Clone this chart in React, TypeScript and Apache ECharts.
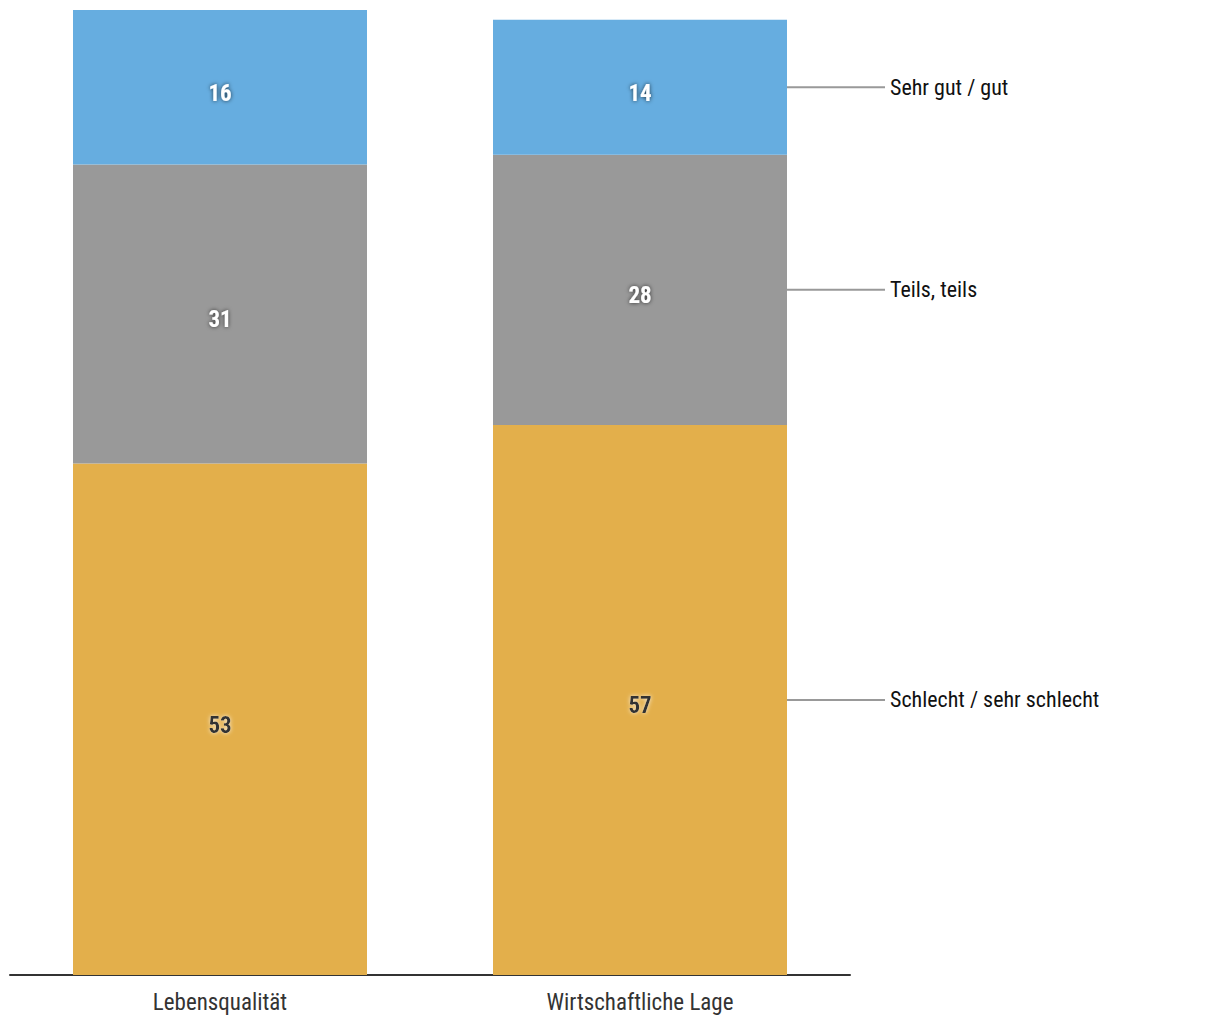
import React, { useEffect, useRef } from "react";
import * as echarts from "echarts";

const categories = ["Lebensqualität", "Wirtschaftliche Lage"];
const seriesNames = ["Schlecht / sehr schlecht", "Teils, teils", "Sehr gut / gut"];
const schlecht = [53, 57];
const teils = [31, 28];
const gut = [16, 14];
const colors = ["#E3AF4B", "#999999", "#66ADE0"];
const FONT = "'Liberation Sans Narrow', 'Roboto Condensed', Lato, sans-serif";

export default function App() {
  const ref = useRef<HTMLDivElement>(null);
  useEffect(() => {
    if (!ref.current) return;
    const chart = echarts.init(ref.current, null, { renderer: "svg" });
    const values = [schlecht, teils, gut];
    const lastIdx = categories.length - 1;
    let acc = 0;
    const sideData = values.map((arr, i) => {
      const c = acc + arr[lastIdx] / 2;
      acc += arr[lastIdx];
      return [lastIdx, c, seriesNames[i]];
    });
    const barSeries = values.map((arr, i) => ({
      name: seriesNames[i],
      type: "bar",
      stack: "total",
      barWidth: "70%",
      data: arr,
      itemStyle: { color: colors[i] },
      label: {
        show: true,
        position: "inside",
        offset: [0, 6],
        fontFamily: FONT,
        fontWeight: "bold",
        fontSize: 23,
        color: i === 0 ? "#333333" : "#ffffff",
        textShadowColor: i === 0 ? "rgba(255,255,255,0.8)" : "rgba(0,0,0,0.7)",
        textShadowBlur: 4,
        textBorderWidth: 0,
      },
    }));
    chart.setOption({
      animation: false,
      grid: { left: 10, top: 10, right: 370, bottom: 45, containLabel: false },
      xAxis: {
        type: "category",
        data: categories,
        axisLine: { show: true, lineStyle: { color: "#333333", width: 2 } },
        axisTick: { show: false },
        axisLabel: { fontFamily: FONT, fontSize: 23, color: "#333333", margin: 16 },
      },
      yAxis: {
        type: "value",
        min: 0,
        max: 100,
        show: false,
        splitLine: { show: false },
      },
      series: [
        ...barSeries,
        {
          type: "custom",
          data: sideData,
          silent: true,
          renderItem: (params: any, api: any) => {
            const pt = api.coord([api.value(0), api.value(1)]);
            const bw = api.size([1, 0])[0] * 0.35;
            const x0 = pt[0] + bw;
            return {
              type: "group",
              children: [
                {
                  type: "line",
                  shape: { x1: x0, y1: pt[1], x2: x0 + 98, y2: pt[1] },
                  style: { stroke: "#999999", lineWidth: 2 },
                },
                {
                  type: "text",
                  style: {
                    x: x0 + 103,
                    y: pt[1],
                    text: sideData[params.dataIndex][2],
                    fontFamily: FONT,
                    fontSize: 22,
                    fill: "#111111",
                    verticalAlign: "middle",
                    align: "left",
                  },
                },
              ],
            };
          },
        },
      ],
    });
    return () => chart.dispose();
  }, []);
  return (
    <div
      ref={ref}
      style={{ position: "absolute", left: 0, top: 0, width: 1220, height: 1020, overflow: "hidden" }}
    />
  );
}
